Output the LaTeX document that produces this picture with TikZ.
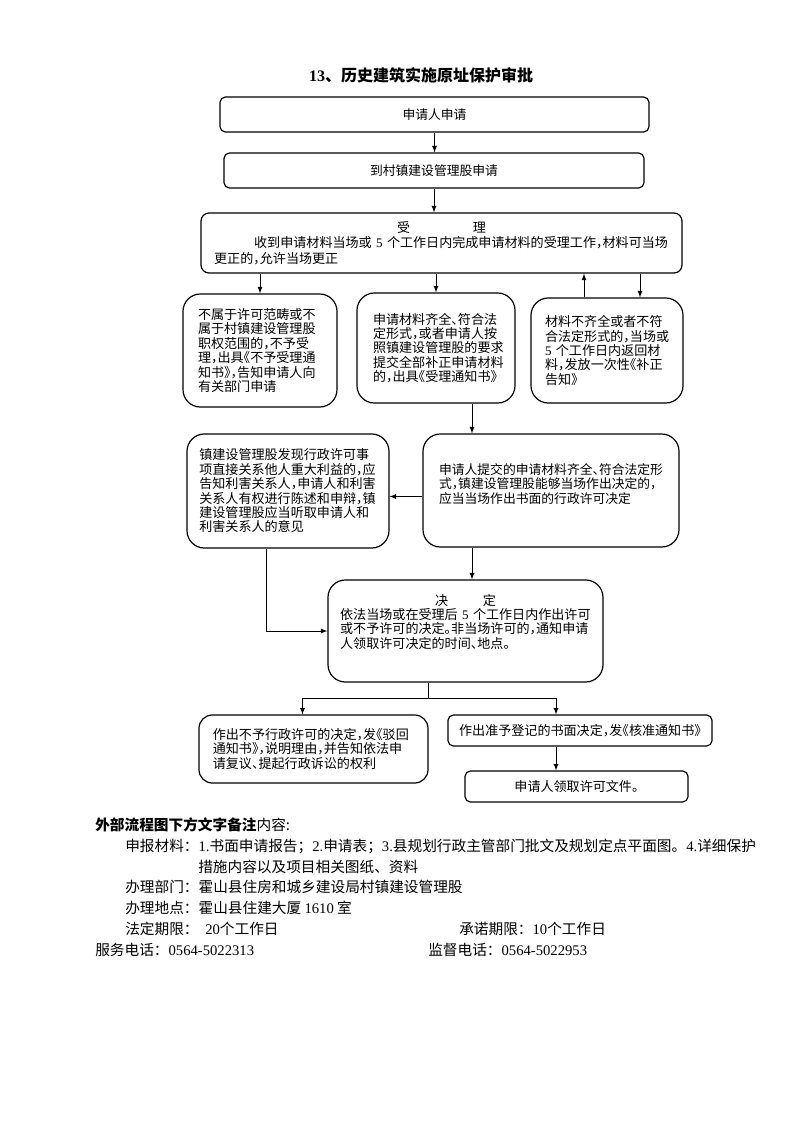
\documentclass[tikz,border=0pt]{standalone}
\usepackage{fontspec}
\setmainfont{Noto Sans CJK SC}[RawFeature=+halt]
\newfontfamily\remfont{Noto Sans CJK SC}
\newfontfamily\lat{Liberation Serif}
\usetikzlibrary{calc}

\begin{document}
\begin{tikzpicture}[x=0.75pt, y=-0.75pt,
    box/.style={draw, line width=0.9pt, rounded corners=4pt, inner sep=0pt, font=\fontsize{9.6}{10.8}\selectfont},
    rbox/.style={box, rounded corners=13pt, align=left, font=\fontsize{9.8}{10.8}\selectfont},
    arr/.style={-latex, line width=0.7pt},
    note/.style={anchor=west, inner sep=0pt, font=\remfont\fontsize{11}{13}\selectfont}]
    \useasboundingbox (0,0) rectangle (793,1122);
    \node[font=\remfont\bfseries\fontsize{12}{14}\selectfont] (title) at (421,75) {{\lat\bfseries 13}、历史建筑实施原址保护审批};
    % upper part
    \node[box, minimum width=321.75pt, minimum height=26.25pt] (apply) at (434.5,114.5) {申请人申请};
    \node[box, minimum width=315pt, minimum height=26.25pt] (office) at (434,170.5) {到村镇建设管理股申请};
    \node[box, rounded corners=6pt, minimum width=360.75pt, minimum height=45pt, text width=341pt, align=left, font=\fontsize{9.8}{11.6}\selectfont] (accept) at (441.5,243) {\hfill 受\hspace{47pt}理\hfill\mbox{}\\ \hspace*{30pt}收到申请材料当场或~{\lat 5}~个工作日内完成申请材料的受理工作，材料可当场\\更正的，允许当场更正};
    \node[rbox, minimum width=115.5pt, minimum height=84.75pt, text width=93pt] (refuse) at (260,350.5) {不属于许可范畴或不\\属于村镇建设管理股\\职权范围的，不予受\\理，出具《不予受理通\\知书》，告知申请人向\\有关部门申请};
    \node[rbox, minimum width=118.5pt, minimum height=82.5pt, text width=94.5pt] (complete) at (436,348) {申请材料齐全、符合法\\定形式，或者申请人按\\照镇建设管理股的要求\\提交全部补正申请材料\\的，出具《受理通知书》};
    \node[rbox, minimum width=114pt, minimum height=78.75pt, text width=93pt] (lack) at (607,350.5) {材料不齐全或者不符\\合法定形式的，当场或\\{\lat 5}~个工作日内返回材\\料，发放一次性《补正\\告知》};
    % middle part
    \node[rbox, minimum width=151.5pt, minimum height=85.5pt, text width=133pt] (hearing) at (288,491) {镇建设管理股发现行政许可事\\项直接关系他人重大利益的，应\\告知利害关系人，申请人和利害\\关系人有权进行陈述和申辩，镇\\建设管理股应当听取申请人和\\利害关系人的意见};
    \node[rbox, minimum width=192pt, minimum height=84.75pt, text width=168pt, font=\fontsize{9.6}{10.8}\selectfont] (onsite) at (551,490.5) {申请人提交的申请材料齐全、符合法定形\\式，镇建设管理股能够当场作出决定的，\\应当当场作出书面的行政许可决定\\ \mbox{}};
    \node[rbox, minimum width=206.25pt, minimum height=76.5pt, text width=188pt] (decide) at (465.5,631) {\hfill 决\hspace{26pt}定\hfill\mbox{}\\依法当场或在受理后~{\lat 5}~个工作日内作出许可\\或不予许可的决定。非当场许可的，通知申请\\人领取许可决定的时间、地点。\\[4pt]\mbox{}};
    % lower part
    \node[rbox, rounded corners=10pt, minimum width=171.75pt, minimum height=51pt, text width=151pt] (deny) at (313.5,749) {作出不予行政许可的决定，发《驳回\\通知书》，说明理由，并告知依法申\\请复议、提起行政诉讼的权利};
    \node[box, minimum width=198pt, minimum height=23.25pt, font=\fontsize{9.8}{10.8}\selectfont] (grant) at (580,730.5) {作出准予登记的书面决定，发《核准通知书》};
    \node[box, minimum width=167.25pt, minimum height=23.25pt, font=\fontsize{9.8}{10.8}\selectfont] (collect) at (576.5,786.5) {申请人领取许可文件。};

    \coordinate (lackup) at ($(lack.north)+(-23,0)$);
    \coordinate (lackdn) at ($(lack.north)+(33,0)$);
    \coordinate (cdown) at ($(complete.south)+(36,0)$);
    \coordinate (oleft) at ($(onsite.west)+(0,6)$);
    \coordinate (hdown) at ($(hearing.south)+(-22,0)$);
    \coordinate (ddown) at ($(decide.south)+(-37,0)$);
    \coordinate (split) at ($(ddown)+(0,16)$);
    \coordinate (denytop) at ($(deny.north)+(-11,0)$);
    \coordinate (granttop) at ($(grant.north)+(-24,0)$);

    \draw[arr] (apply.south) -- (apply.south |- office.north);
    \draw[arr] (office.south) -- (office.south |- accept.north);
    \draw[arr] (refuse.north |- accept.south) -- (refuse.north);
    \draw[arr] (complete.north |- accept.south) -- (complete.north);
    \draw[arr] (lackup) -- (lackup |- accept.south);
    \draw[arr] (lackdn |- accept.south) -- (lackdn);
    \draw[arr] (cdown) -- (cdown |- onsite.north);
    \draw[arr] (oleft) -- (oleft -| hearing.east);
    \draw[arr] (cdown |- onsite.south) -- (cdown |- decide.north);
    \draw[arr] (hdown) |- (decide.west);
    \draw (ddown) -- (split);
    \draw[arr] (split) -| (denytop);
    \draw[arr] (split) -| (granttop);
    \draw[arr] (granttop |- grant.south) -- (granttop |- collect.north);

    % remarks below the chart
    \node[note] (remark) at (95,825) {{\bfseries 外部流程图下方文字备注}内容:};
    \node[note] (material) at (125,846) {申报材料：{\lat 1.}书面申请报告；{\lat 2.}申请表；{\lat 3.}县规划行政主管部门批文及规划定点平面图。{\lat 4.}详细保护};
    \node[note] (material2) at (198,867) {措施内容以及项目相关图纸、资料};
    \node[note] (dept) at (125,887) {办理部门：霍山县住房和城乡建设局村镇建设管理股};
    \node[note] (place) at (125,908) {办理地点：霍山县住建大厦 {\lat 1610} 室};
    \node[note] (legal) at (125,929) {法定期限：\hspace{5pt}{\lat 20}个工作日};
    \node[note] (promise) at (459,929) {承诺期限：{\lat 10}个工作日};
    \node[note] (service) at (95,950) {服务电话：{\lat 0564-5022313}};
    \node[note] (supervise) at (428,950) {监督电话：{\lat 0564-5022953}};
\end{tikzpicture}
\end{document}
